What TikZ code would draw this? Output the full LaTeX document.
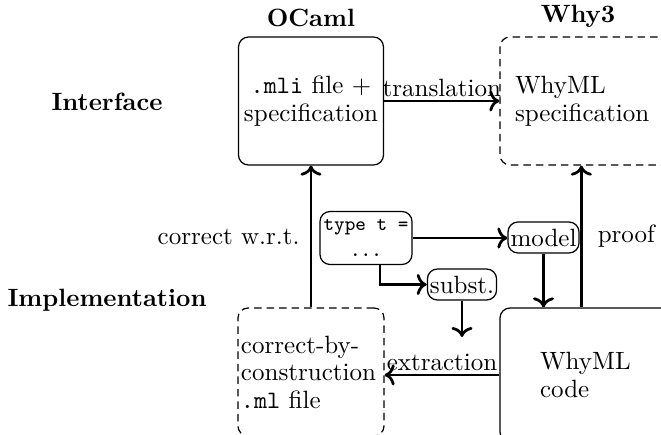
\documentclass[tikz,border=0pt]{standalone}
\usetikzlibrary{arrows.meta,calc}
\begin{document}
\begin{tikzpicture}[x=0.4pt,y=-0.4pt,
  box/.style={draw, line width=0.5pt, rounded corners=4pt, inner sep=0pt},
  dbox/.style={box, dash pattern=on 3pt off 2pt},
  small/.style={draw, line width=0.5pt, rounded corners=4pt, inner sep=1pt, minimum height=12.4pt},
  arr/.style={->, line width=1.1pt},
  lbl/.style={inner sep=1pt},
  title/.style={font=\bfseries}]
\useasboundingbox (0,0) rectangle (661,434);
\clip (0,0) rectangle (661,434);

% titles
\node[title] (toc) at (311,18) {OCaml};
\node[title] (twhy) at (578,16) {Why3};
\node[title] (tint) at (107,102) {Interface};
\node[title] (timp) at (107,300) {Implementation};

% big boxes
\node[box, minimum width=58pt, minimum height=51.2pt, align=center] (oc) at (311,101)
  {\texttt{.mli} file $+$\\[-1pt] specification};
\node[dbox, minimum width=72pt, minimum height=51.2pt, inner xsep=6pt, text width=60pt, align=left] (ws) at (590,101)
  {WhyML\\[-1pt] specification};
\node[dbox, minimum width=58.4pt, minimum height=51.2pt, inner xsep=1.2pt, text width=56pt, align=left] (cbc) at (311,372)
  {correct-by-\\[-1pt] construction\\[-1pt] \texttt{.ml} file};
\node[box, minimum width=80pt, minimum height=53.6pt, inner xsep=16pt, text width=48pt, align=left] (code) at (600,375)
  {WhyML\\[-1pt] code};

% small boxes
\node[box, minimum width=36.8pt, minimum height=21.2pt, align=center, font=\footnotesize\ttfamily] (tt) at (366,238)
  {type t =\\[1pt] ...};
\node[small] (model) at (543.5,237.5) {model};
\node[small] (subst) at (462,284.5) {subst.};
\coordinate (sd) at (462,337);

% connectors
\draw[arr] (oc.east) -- node[lbl, above] {translation} (ws.west);
\draw[arr] (cbc.north) -- node[lbl, left, xshift=-3pt] {correct w.r.t.} (cbc.north |- oc.south);
\draw[arr] ([xshift=32.8pt]code.north west) -- node[lbl, right, xshift=5pt] {proof} ([xshift=32.8pt]code.north west |- ws.south);
\draw[arr] (tt.east) -- (tt.east -| model.west);
\draw[arr] ([xshift=5.6pt]tt.south) |- (subst.west);
\draw[arr] (subst.south) -- (sd);
\draw[arr] (model.south) -- (model.south |- code.north);
\draw[arr] (code.west) -- node[lbl, above] {extraction} (code.west -| cbc.east);
\end{tikzpicture}
\end{document}
